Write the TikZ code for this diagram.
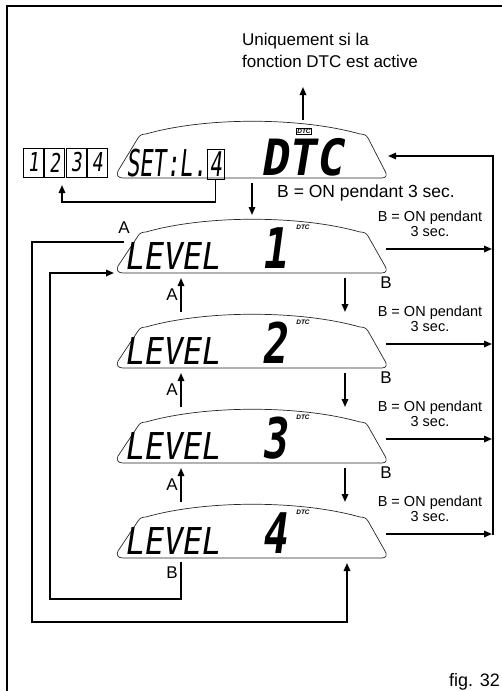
\documentclass[tikz,border=0pt]{standalone}
\usepackage{fontspec}
\setmainfont{Liberation Sans}
\newfontfamily\lcdfont{DejaVu Sans Mono}[FakeSlant=0.18]
\usetikzlibrary{arrows.meta}
\newcommand{\lcdframe}[2]{%
\draw[lcdline] (123,#1) -- (382,#1) .. controls (387,#1) and (387,{#1-4}) .. (385,{#1-7})
 -- (368,{#1-#2+4}) .. controls (366,{#1-#2+1}) and (364,{#1-#2}) .. (360,{#1-#2})
 .. controls (300,{#1-#2-17}) and (205,{#1-#2-17}) .. (146,{#1-#2})
 .. controls (142,{#1-#2}) and (140,{#1-#2+1}) .. (138,{#1-#2+4})
 -- (118,{#1-7}) .. controls (116,{#1-3}) and (118,#1) .. (123,#1) -- cycle;}
\tikzset{
 x=1pt, y=-1pt,
 lcdline/.style={line width=0.7pt, draw=black!85},
 conn/.style={line width=1.6pt, -{Triangle[length=8pt,width=6.5pt]}},
 border/.style={line width=1.4pt},
 lbl/.style={font=\fontsize{17}{17}\selectfont, inner sep=0pt},
 lbltwo/.style={font=\fontsize{14.5}{15}\selectfont, inner sep=0pt, align=center},
 lcdtxt/.style={font=\fontsize{37}{37}\selectfont\lcdfont, inner sep=0pt, text depth=0pt},
 lcdbig/.style={font=\fontsize{56}{56}\selectfont\lcdfont\bfseries, inner sep=0pt, text depth=0pt},
 lcddtc/.style={font=\fontsize{50}{50}\selectfont\lcdfont\bfseries, inner sep=0pt, text depth=0pt},
 digbox/.style={draw, line width=0.7pt, minimum width=20pt, minimum height=29pt, inner sep=0pt,
   font=\fontsize{26}{26}\selectfont\lcdfont},
 badge/.style={font=\fontsize{6.5}{7}\selectfont\bfseries\itshape, inner sep=0.8pt}
}
\begin{document}
\begin{tikzpicture}
\useasboundingbox (0,0) rectangle (502,691);
% border
\draw[border] (7,691) -- (7,6) -- (502,6);

% note at top
\node[inner sep=0pt, align=left, anchor=north west, font=\fontsize{17}{21.5}\selectfont] (note) at (242,33)
  {Uniquement si la\\fonction DTC est active};

% ---------- DTC display ----------
\lcdframe{178}{44}
\node[lcdtxt, anchor=base west] (settxt) at (126,176) {\scalebox{0.6}[1]{SET:L.}};
\node[draw, line width=0.7pt, minimum width=17pt, minimum height=30pt, inner sep=0pt,
  font=\fontsize{34}{34}\selectfont\lcdfont] (setfour) at (215.5,164) {\scalebox{0.6}[1]{4}};
\node[lcddtc, anchor=base west] (dtcbig) at (260,175) {\scalebox{0.92}[1]{DTC}};
\node[badge, draw, line width=0.7pt, fill=white] (dtcbadge) at (304,131) {DTC};
\coordinate (dtctop) at (303,120);
\coordinate (dtcright) at (388,156);
\coordinate (dtcbot) at (252,183);

% 1234 boxes
\node[digbox] (d1) at (33,162.5) {\scalebox{0.7}[1]{1}};
\node[digbox] (d2) at (54.5,162.5) {\scalebox{0.7}[1]{2}};
\node[digbox] (d3) at (76,162.5) {\scalebox{0.7}[1]{3}};
\node[digbox] (d4) at (97,162.5) {\scalebox{0.7}[1]{4}};

\node[lbl, anchor=base, font=\fontsize{17.5}{17.5}\selectfont] (bon0) at (366,197) {B = ON pendant 3 sec.};

% ---------- LEVEL displays ----------
\foreach \b/\d/\n in {273/1/1, 368/2/2, 463/3/3, 558/4/4}{
  \lcdframe{\b}{41}
  \node[lcdtxt, anchor=base west] (lv\n) at (124,{\b-4}) {\scalebox{0.86}[1]{LEVEL}};
  \node[lcdbig, anchor=base] (dg\n) at (274,{\b-5}) {\scalebox{0.75}[1]{\d}};
  \node[badge] (bd\n) at (303,{\b-46}) {DTC};
  \node[lbltwo] (bon\n) at (430,{\b-49}) {B = ON pendant\\3 sec.};
  \coordinate (rs\n) at (386,{\b-24});
  \coordinate (re\n) at (492,{\b-24});
  \draw[conn] (rs\n) -- (re\n);
}

% B labels under right of displays 1-3, and down arrows
\foreach \b/\n in {273/1, 368/2, 463/3}{
  \node[lbl] (bl\n) at (386,{\b+10}) {B};
  \coordinate (dn\n) at (345,{\b+5});
  \coordinate (dt\n) at (345,{\b+39});
  \draw[conn] (dn\n) -- (dt\n);
  \node[lbl] (al\n) at (172,{\b+22}) {A};
  \coordinate (ua\n) at (181,{\b+39});
  \coordinate (ut\n) at (181,{\b+5});
  \draw[conn] (ua\n) -- (ut\n);
}

% top arrow to note
\coordinate (notetip) at (303,87);
\draw[conn] (dtctop) -- (notetip);

% SET 4 to 1234
\coordinate (sb) at (215.5,202);
\coordinate (sl) at (62,202);
\coordinate (stip) at (62,185);
\draw[conn] (setfour.south) -- (sb) -- (sl) -- (stip);

% DTC to LEVEL 1
\coordinate (l1top) at (252,215);
\draw[conn] (dtcbot) -- (l1top);

% right return line
\coordinate (rbot) at (493,534.8);
\coordinate (rtop) at (493,156);
\draw[conn] (rbot) -- (rtop) -- (dtcright);

% outer loop A
\node[lbl] (atop) at (124,228) {A};
\coordinate (oa) at (124,242);
\coordinate (ob) at (32,242);
\coordinate (oc) at (32,622);
\coordinate (od) at (347,622);
\coordinate (oe) at (347,563);
\draw[conn] (oa) -- (ob) -- (oc) -- (od) -- (oe);

% inner loop B
\node[lbl] (b4) at (172,573) {B};
\coordinate (ia) at (181,562);
\coordinate (ib) at (181,599);
\coordinate (ic) at (50,599);
\coordinate (id) at (50,273);
\coordinate (ie) at (114,273);
\draw[conn] (ia) -- (ib) -- (ic) -- (id) -- (ie);

% figure label
\node[inner sep=0pt, font=\fontsize{18}{18}\selectfont, anchor=base east] (fig) at (500,686) {fig. 32};
\end{tikzpicture}
\end{document}
